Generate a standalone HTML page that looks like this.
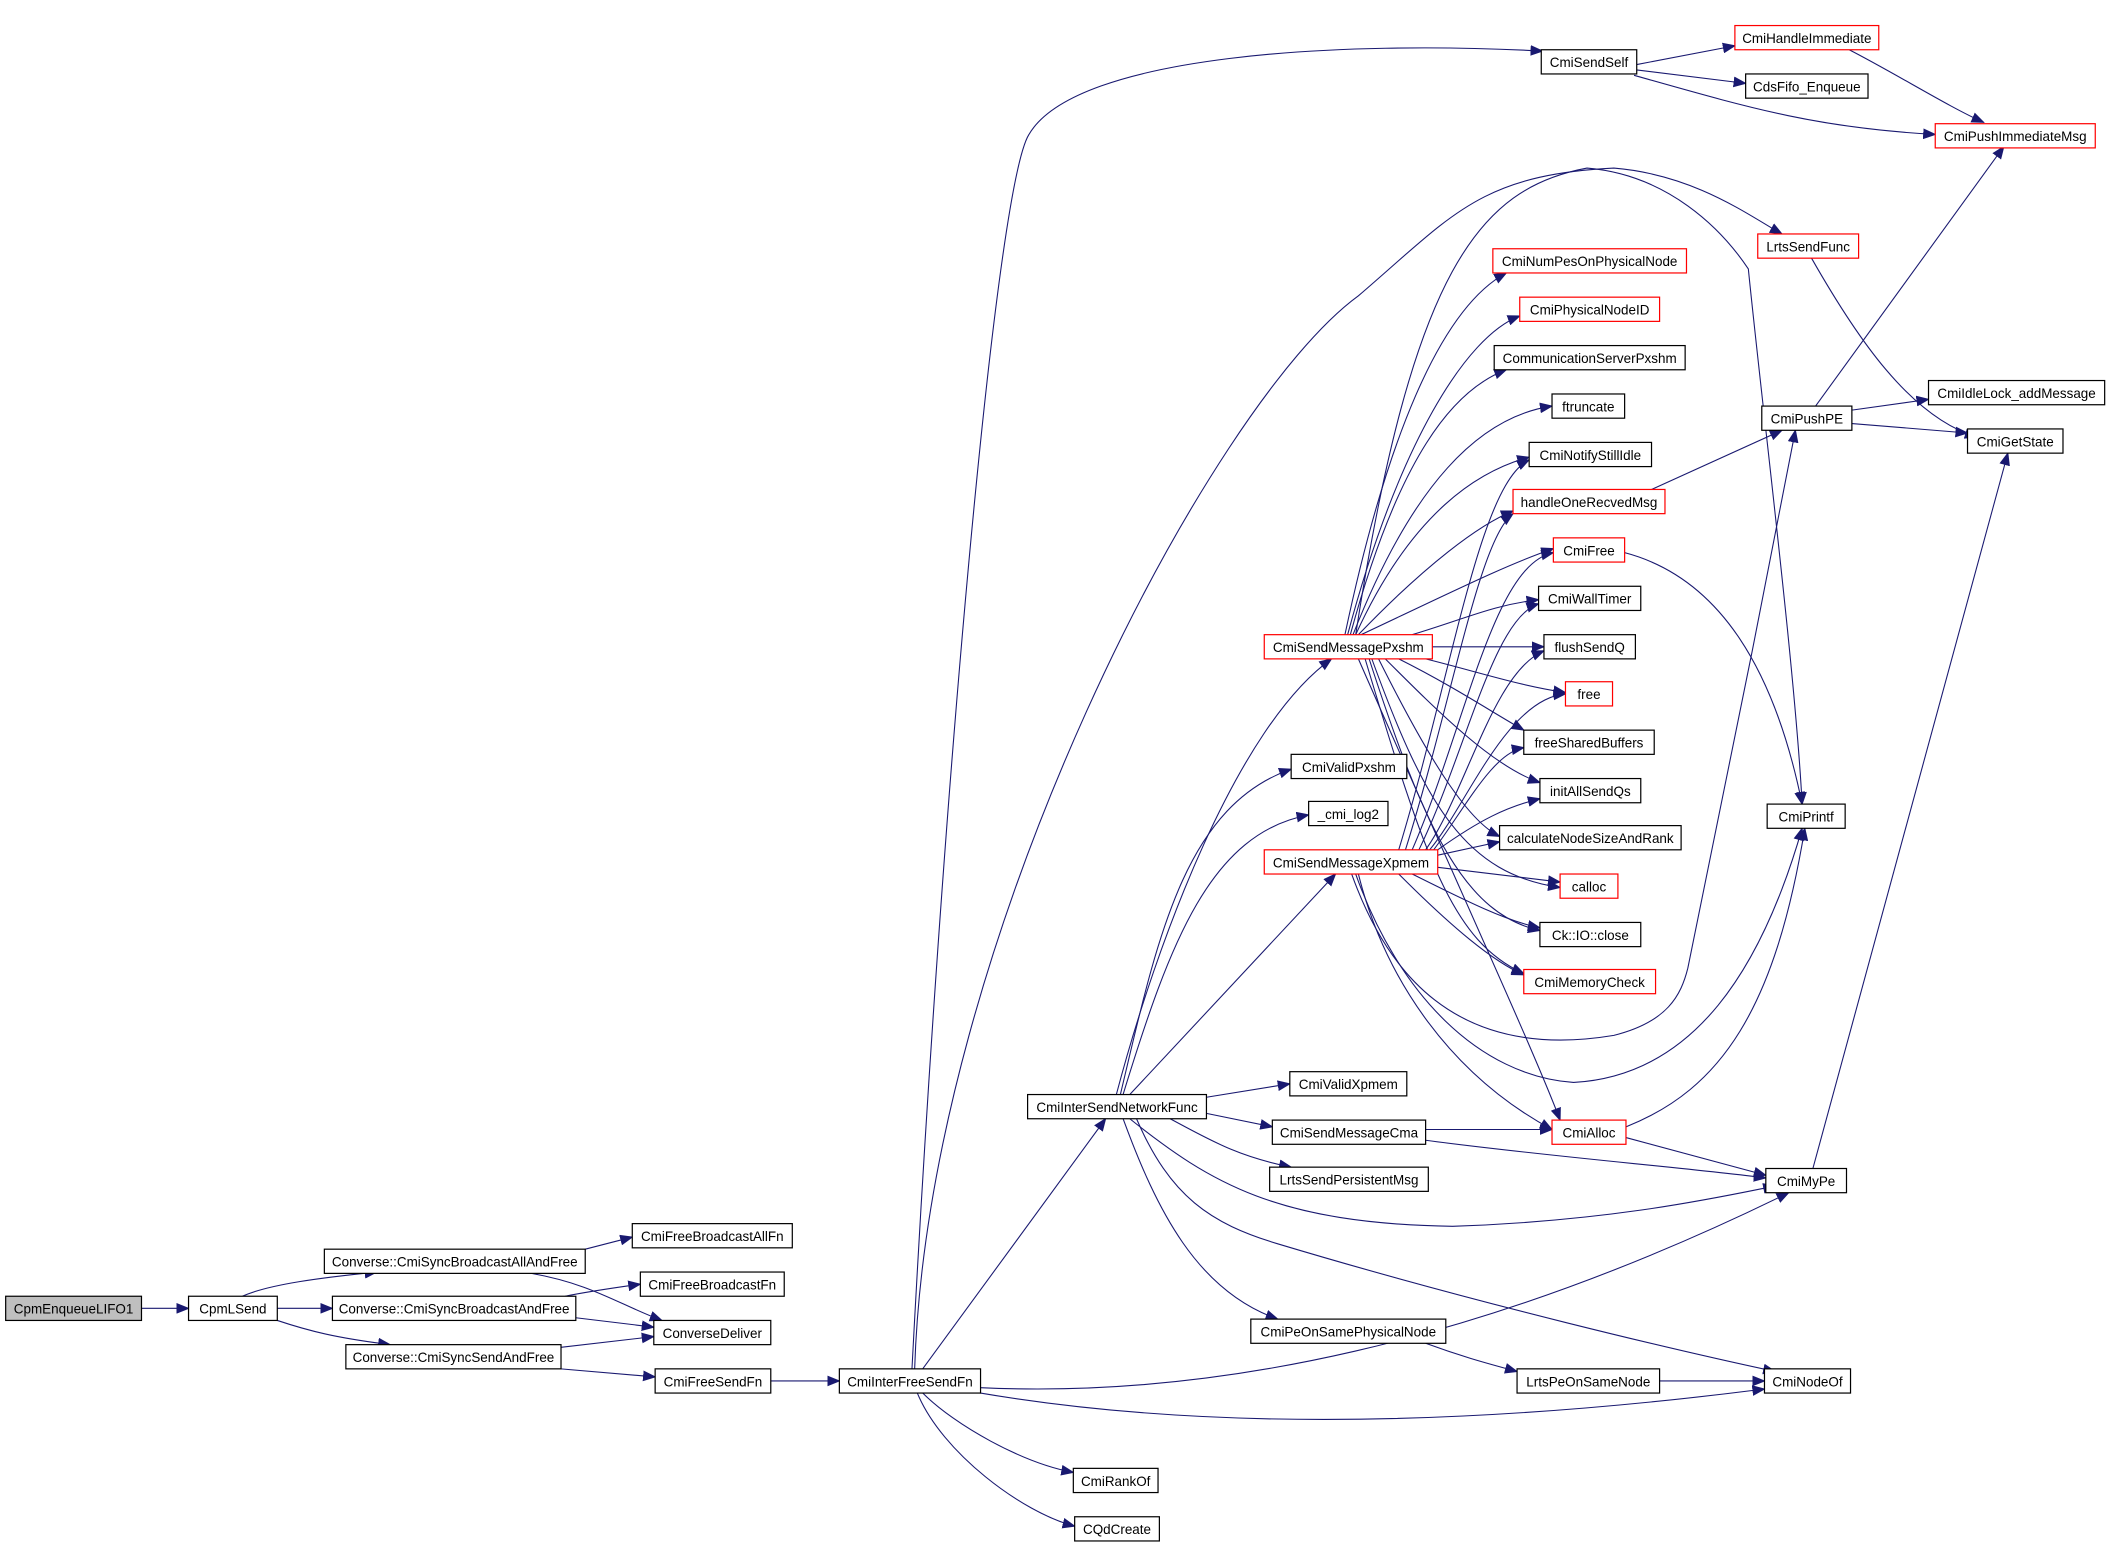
<!DOCTYPE html>
<html><head><meta charset="utf-8"><style>
html,body{margin:0;padding:0;background:#fff;}
svg{display:block;}
text{font-family:"Liberation Sans",sans-serif;font-size:10px;fill:#000;text-anchor:middle;}
.e{fill:none;stroke:#191970;stroke-width:0.8;}
.b{fill:#fff;stroke:#000;stroke-width:0.9;}
.r{fill:#fff;stroke:#ff0000;stroke-width:0.9;}
</style></head><body>
<svg width="2109" height="1545" viewBox="0 0 1568 1149" xmlns="http://www.w3.org/2000/svg">
<defs><marker id="a" markerWidth="10" markerHeight="8" refX="9" refY="4" orient="auto" markerUnits="userSpaceOnUse"><path d="M0,0 L10,4 L0,8 z" fill="#191970"/></marker></defs>
<g class="e" marker-end="url(#a)">
<path d="M105,973 L140,973"/>
<path d="M180,964 C200,955 240,950 280,946"/>
<path d="M206,973 L247,973"/>
<path d="M206,982 C230,990 250,995 290,1000"/>
<path d="M435,929 L470,920"/>
<path d="M395,947 C440,955 460,970 492,982"/>
<path d="M420,964 C440,960 455,958 476,955"/>
<path d="M428,980 L486,987"/>
<path d="M417,1002 L486,994"/>
<path d="M417,1018 L487,1024"/>
<path d="M573,1027 L624,1027"/>
<path d="M678,1018 C700,600 740,140 765,100 C800,40 1000,30 1147,38"/>
<path d="M680,1018 C690,700 900,300 1010,220 C1080,160 1100,130 1200,125 C1260,130 1300,160 1325,174"/>
<path d="M686,1018 L822,832"/>
<path d="M686,1036 C710,1060 760,1088 798,1095"/>
<path d="M682,1036 C700,1080 760,1125 799,1135"/>
<path d="M729,1032 C900,1040 1100,1000 1330,887"/>
<path d="M729,1036 C900,1065 1100,1060 1312,1033"/>
<path d="M830,814 C860,700 920,540 990,490"/>
<path d="M833,814 C860,700 880,600 960,572"/>
<path d="M835,814 C870,700 900,620 973,606"/>
<path d="M840,814 L993,650"/>
<path d="M897,816 L959,806"/>
<path d="M897,828 L946,838"/>
<path d="M870,832 C900,848 920,860 960,868"/>
<path d="M835,832 C860,900 890,960 950,981"/>
<path d="M840,832 C900,880 950,910 1080,912 C1200,908 1280,890 1320,882"/>
<path d="M845,832 C870,890 900,910 950,925 C1100,970 1250,1005 1320,1020"/>
<path d="M1060,840 L1154,840"/>
<path d="M1060,848 C1150,860 1250,868 1313,876"/>
<path d="M1209,846 L1313,874"/>
<path d="M1209,838 C1280,810 1320,750 1342,616"/>
<path d="M1060,999 C1090,1010 1110,1015 1128,1020"/>
<path d="M1234,1027 L1312,1027"/>
<path d="M1348,869 L1493,337"/>
<path d="M1217,48 L1290,34"/>
<path d="M1217,52 L1298,62"/>
<path d="M1215,56 C1300,80 1350,95 1439,100"/>
<path d="M1375,37 C1410,55 1450,80 1475,91"/>
<path d="M1347,192 C1380,250 1420,310 1470,325"/>
<path d="M1350,302 L1490,109"/>
<path d="M1377,305 L1434,297"/>
<path d="M1377,315 L1463,322"/>
<path d="M1228,364 L1325,320"/>
<path d="M1208,411 C1280,430 1320,500 1340,598"/>
<!-- Pxshm fan -->
<path d="M1000,472 C1030,330 1070,230 1120,203"/>
<path d="M1002,472 C1040,330 1090,250 1130,235"/>
<path d="M1004,472 C1040,340 1080,290 1120,275"/>
<path d="M1006,472 C1050,360 1100,310 1154,302"/>
<path d="M1008,472 C1050,380 1100,350 1137,340"/>
<path d="M1010,472 C1060,420 1100,390 1125,380"/>
<path d="M1012,472 C1080,440 1120,420 1155,408"/>
<path d="M1050,472 C1090,460 1110,450 1144,446"/>
<path d="M1065,481 L1148,481"/>
<path d="M1060,490 C1100,500 1130,510 1164,515"/>
<path d="M1040,490 C1080,510 1110,530 1133,543"/>
<path d="M1030,490 C1070,530 1110,570 1145,582"/>
<path d="M1025,490 C1060,560 1090,610 1115,622"/>
<path d="M1020,490 C1060,600 1090,650 1160,660"/>
<path d="M1018,490 C1060,620 1090,680 1145,692"/>
<path d="M1015,490 C1060,640 1080,700 1133,724"/>
<path d="M1010,490 C1080,650 1140,780 1160,833"/>
<path d="M1008,472 C1050,200 1100,140 1180,125 C1240,130 1280,170 1300,200 C1310,300 1335,500 1340,598"/>
<!-- Xpmem fan -->
<path d="M1040,632 C1080,500 1100,360 1137,342"/>
<path d="M1045,632 C1080,520 1100,400 1125,382"/>
<path d="M1050,632 C1090,540 1110,420 1155,411"/>
<path d="M1055,632 C1090,560 1110,460 1144,449"/>
<path d="M1060,632 C1090,590 1110,500 1148,484"/>
<path d="M1063,632 C1090,600 1120,520 1164,516"/>
<path d="M1066,632 C1090,600 1110,560 1133,556"/>
<path d="M1069,632 C1100,610 1120,600 1145,594"/>
<path d="M1069,636 L1115,626"/>
<path d="M1069,645 L1160,656"/>
<path d="M1050,650 C1090,670 1120,685 1145,690"/>
<path d="M1040,650 C1080,690 1110,715 1133,725"/>
<path d="M1010,650 C1030,730 1080,800 1154,840"/>
<path d="M1005,650 C1030,720 1080,790 1200,770 C1240,760 1250,740 1255,720 C1280,600 1310,450 1335,320"/>
<path d="M1008,650 C1040,740 1100,800 1170,805 C1260,800 1310,720 1340,616"/>
</g>
<g>
<rect class="b" x="4" y="964" width="101" height="18" style="fill:#bfbfbf"/><text x="54.5" y="977">CpmEnqueueLIFO1</text>
<rect class="b" x="140" y="964" width="66" height="18"/><text x="173" y="977">CpmLSend</text>
<rect class="b" x="241" y="929" width="194" height="18"/><text x="338" y="942">Converse::CmiSyncBroadcastAllAndFree</text>
<rect class="b" x="247" y="964" width="181" height="18"/><text x="337.5" y="977">Converse::CmiSyncBroadcastAndFree</text>
<rect class="b" x="257" y="1000" width="160" height="18"/><text x="337" y="1013">Converse::CmiSyncSendAndFree</text>
<rect class="b" x="470" y="910" width="119" height="18"/><text x="529.5" y="923">CmiFreeBroadcastAllFn</text>
<rect class="b" x="476" y="946" width="107" height="18"/><text x="529.5" y="959">CmiFreeBroadcastFn</text>
<rect class="b" x="486" y="982" width="87" height="18"/><text x="529.5" y="995">ConverseDeliver</text>
<rect class="b" x="487" y="1018" width="86" height="18"/><text x="530" y="1031">CmiFreeSendFn</text>
<rect class="b" x="624" y="1018" width="105" height="18"/><text x="676.5" y="1031">CmiInterFreeSendFn</text>
<rect class="b" x="798" y="1092" width="63" height="18"/><text x="829.5" y="1105">CmiRankOf</text>
<rect class="b" x="799" y="1128" width="63" height="18"/><text x="830.5" y="1141">CQdCreate</text>
<rect class="b" x="764" y="814" width="133" height="18"/><text x="830.5" y="827">CmiInterSendNetworkFunc</text>
<rect class="b" x="959" y="797" width="87" height="18"/><text x="1002.5" y="810">CmiValidXpmem</text>
<rect class="b" x="946" y="833" width="114" height="18"/><text x="1003" y="846">CmiSendMessageCma</text>
<rect class="b" x="944" y="868" width="118" height="18"/><text x="1003" y="881">LrtsSendPersistentMsg</text>
<rect class="b" x="930" y="981" width="145" height="18"/><text x="1002.5" y="994">CmiPeOnSamePhysicalNode</text>
<rect class="b" x="1128" y="1018" width="106" height="18"/><text x="1181" y="1031">LrtsPeOnSameNode</text>
<rect class="b" x="1312" y="1018" width="64" height="18"/><text x="1344" y="1031">CmiNodeOf</text>
<rect class="b" x="1313" y="869" width="60" height="18"/><text x="1343" y="882">CmiMyPe</text>
<rect class="r" x="1154" y="833" width="55" height="18"/><text x="1181.5" y="846">CmiAlloc</text>
<rect class="b" x="960" y="561" width="86" height="18"/><text x="1003" y="574">CmiValidPxshm</text>
<rect class="b" x="973" y="596" width="59" height="18"/><text x="1002.5" y="609">_cmi_log2</text>
<rect class="r" x="940" y="632" width="129" height="18"/><text x="1004.5" y="645">CmiSendMessageXpmem</text>
<rect class="r" x="940" y="472" width="125" height="18"/><text x="1002.5" y="485">CmiSendMessagePxshm</text>
<rect class="r" x="1110" y="185" width="144" height="18"/><text x="1182" y="198">CmiNumPesOnPhysicalNode</text>
<rect class="r" x="1130" y="221" width="104" height="18"/><text x="1182" y="234">CmiPhysicalNodeID</text>
<rect class="b" x="1111" y="257" width="142" height="18"/><text x="1182" y="270">CommunicationServerPxshm</text>
<rect class="b" x="1154" y="293" width="54" height="18"/><text x="1181" y="306">ftruncate</text>
<rect class="b" x="1137" y="329" width="91" height="18"/><text x="1182.5" y="342">CmiNotifyStillIdle</text>
<rect class="r" x="1125" y="364" width="113" height="18"/><text x="1181.5" y="377">handleOneRecvedMsg</text>
<rect class="r" x="1155" y="400" width="53" height="18"/><text x="1181.5" y="413">CmiFree</text>
<rect class="b" x="1144" y="436" width="76" height="18"/><text x="1182" y="449">CmiWallTimer</text>
<rect class="b" x="1148" y="472" width="68" height="18"/><text x="1182" y="485">flushSendQ</text>
<rect class="r" x="1164" y="507" width="35" height="18"/><text x="1181.5" y="520">free</text>
<rect class="b" x="1133" y="543" width="97" height="18"/><text x="1181.5" y="556">freeSharedBuffers</text>
<rect class="b" x="1145" y="579" width="75" height="18"/><text x="1182.5" y="592">initAllSendQs</text>
<rect class="b" x="1115" y="614" width="135" height="18"/><text x="1182.5" y="627">calculateNodeSizeAndRank</text>
<rect class="r" x="1160" y="650" width="43" height="18"/><text x="1181.5" y="663">calloc</text>
<rect class="b" x="1145" y="686" width="75" height="18"/><text x="1182.5" y="699">Ck::IO::close</text>
<rect class="r" x="1133" y="721" width="98" height="18"/><text x="1182" y="734">CmiMemoryCheck</text>
<rect class="b" x="1146" y="37" width="71" height="18"/><text x="1181.5" y="50">CmiSendSelf</text>
<rect class="r" x="1290" y="19" width="107" height="18"/><text x="1343.5" y="32">CmiHandleImmediate</text>
<rect class="b" x="1298" y="55" width="91" height="18"/><text x="1343.5" y="68">CdsFifo_Enqueue</text>
<rect class="r" x="1439" y="92" width="119" height="18"/><text x="1498.5" y="105">CmiPushImmediateMsg</text>
<rect class="r" x="1307" y="174" width="75" height="18"/><text x="1344.5" y="187">LrtsSendFunc</text>
<rect class="b" x="1310" y="302" width="67" height="18"/><text x="1343.5" y="315">CmiPushPE</text>
<rect class="b" x="1434" y="283" width="131" height="18"/><text x="1499.5" y="296">CmiIdleLock_addMessage</text>
<rect class="b" x="1463" y="319" width="71" height="18"/><text x="1498.5" y="332">CmiGetState</text>
<rect class="b" x="1314" y="598" width="58" height="18"/><text x="1343" y="611">CmiPrintf</text>
</g>
</svg>
</body></html>
